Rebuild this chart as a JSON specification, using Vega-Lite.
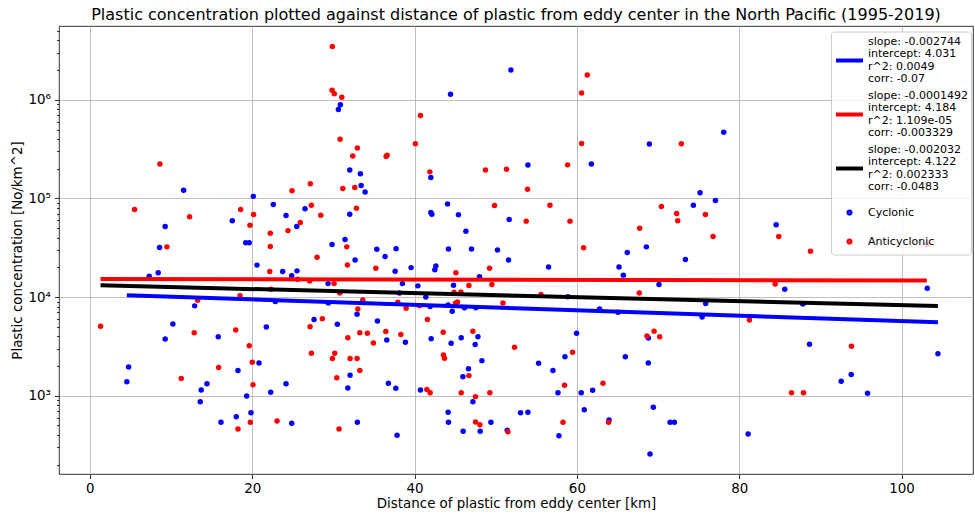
{
  "$schema": "https://vega.github.io/schema/vega-lite/v6.json",
  "width": 914,
  "height": 448,
  "autosize": {"type": "none"},
  "padding": {"left": 59, "top": 26, "right": 2, "bottom": 41},
  "background": "white",
  "title": {"text": "Plastic concentration plotted against distance of plastic from eddy center in the North Pacific (1995-2019)", "font": "DejaVu Sans", "fontSize": 16, "fontWeight": "normal", "color": "black", "anchor": "middle", "offset": 1},
  "config": {
    "view": {"stroke": "black", "strokeWidth": 0.8},
    "font": "DejaVu Sans",
    "axis": {"domain": false, "labelFont": "DejaVu Sans", "labelFontSize": 13.4, "labelColor": "black", "titleFont": "DejaVu Sans", "titleFontSize": 13.4, "titleFontWeight": "normal", "titleColor": "black", "tickColor": "black", "tickSize": 4.5, "tickWidth": 0.8, "gridColor": "#b0b0b0", "gridWidth": 0.8, "gridOpacity": 1, "labelPadding": 3},
    "legend": {"orient": "none", "legendX": 772, "legendY": 5.5, "padding": 3, "strokeColor": "#cccccc", "fillColor": "rgba(255,255,255,0.8)", "cornerRadius": 3, "symbolType": "stroke", "symbolSize": 729, "symbolStrokeWidth": 4, "labelFont": "DejaVu Sans", "labelFontSize": 11, "labelColor": "black", "labelLimit": 0, "labelOffset": 3, "rowPadding": 4}
  },
  "datasets": {
    "points": [
      {"x": 11.55, "y": 121000, "type": "Cyclonic"}, {"x": 9.28, "y": 51900, "type": "Cyclonic"}, {"x": 8.59, "y": 31800, "type": "Cyclonic"}, {"x": 20.14, "y": 105000, "type": "Cyclonic"}, {"x": 22.6, "y": 86700, "type": "Cyclonic"}, {"x": 24.17, "y": 67100, "type": "Cyclonic"}, {"x": 17.55, "y": 59300, "type": "Cyclonic"}, {"x": 25.49, "y": 51900, "type": "Cyclonic"}, {"x": 19.2, "y": 35500, "type": "Cyclonic"}, {"x": 19.64, "y": 35500, "type": "Cyclonic"},
      {"x": 20.59, "y": 21100, "type": "Cyclonic"}, {"x": 23.76, "y": 18150, "type": "Cyclonic"}, {"x": 24.87, "y": 16500, "type": "Cyclonic"}, {"x": 25.52, "y": 18450, "type": "Cyclonic"}, {"x": 7.31, "y": 16300, "type": "Cyclonic"}, {"x": 8.42, "y": 17700, "type": "Cyclonic"}, {"x": 12.91, "y": 8150, "type": "Cyclonic"}, {"x": 22.85, "y": 9000, "type": "Cyclonic"}, {"x": 10.23, "y": 5350, "type": "Cyclonic"}, {"x": 9.28, "y": 3770, "type": "Cyclonic"},
      {"x": 15.82, "y": 3970, "type": "Cyclonic"}, {"x": 21.74, "y": 4990, "type": "Cyclonic"}, {"x": 20.84, "y": 2150, "type": "Cyclonic"}, {"x": 4.77, "y": 1960, "type": "Cyclonic"}, {"x": 18.25, "y": 1800, "type": "Cyclonic"}, {"x": 4.56, "y": 1390, "type": "Cyclonic"}, {"x": 13.72, "y": 1145, "type": "Cyclonic"}, {"x": 14.43, "y": 1320, "type": "Cyclonic"}, {"x": 24.17, "y": 1320, "type": "Cyclonic"}, {"x": 19.32, "y": 995, "type": "Cyclonic"},
      {"x": 22.28, "y": 1085, "type": "Cyclonic"}, {"x": 13.6, "y": 871, "type": "Cyclonic"}, {"x": 18.04, "y": 614, "type": "Cyclonic"}, {"x": 19.85, "y": 674, "type": "Cyclonic"}, {"x": 16.15, "y": 538, "type": "Cyclonic"}, {"x": 24.87, "y": 526, "type": "Cyclonic"}, {"x": 30.86, "y": 890000, "type": "Cyclonic"}, {"x": 30.62, "y": 797000, "type": "Cyclonic"}, {"x": 32.02, "y": 194000, "type": "Cyclonic"}, {"x": 33.33, "y": 177600, "type": "Cyclonic"},
      {"x": 33.42, "y": 135000, "type": "Cyclonic"}, {"x": 33.91, "y": 116000, "type": "Cyclonic"}, {"x": 44.43, "y": 1140000, "type": "Cyclonic"}, {"x": 51.87, "y": 2000000, "type": "Cyclonic"}, {"x": 42.01, "y": 163000, "type": "Cyclonic"}, {"x": 53.97, "y": 218000, "type": "Cyclonic"}, {"x": 26.51, "y": 78500, "type": "Cyclonic"}, {"x": 32.02, "y": 69300, "type": "Cyclonic"}, {"x": 44.06, "y": 88100, "type": "Cyclonic"}, {"x": 42.01, "y": 71900, "type": "Cyclonic"},
      {"x": 42.13, "y": 69300, "type": "Cyclonic"}, {"x": 45.41, "y": 68200, "type": "Cyclonic"}, {"x": 46.33, "y": 46600, "type": "Cyclonic"}, {"x": 51.66, "y": 61100, "type": "Cyclonic"}, {"x": 29.84, "y": 34100, "type": "Cyclonic"}, {"x": 31.44, "y": 38300, "type": "Cyclonic"}, {"x": 35.35, "y": 30600, "type": "Cyclonic"}, {"x": 37.73, "y": 31000, "type": "Cyclonic"}, {"x": 36.37, "y": 25800, "type": "Cyclonic"}, {"x": 32.68, "y": 23800, "type": "Cyclonic"},
      {"x": 44.18, "y": 30800, "type": "Cyclonic"}, {"x": 47.02, "y": 30800, "type": "Cyclonic"}, {"x": 50.22, "y": 30100, "type": "Cyclonic"}, {"x": 51.58, "y": 23800, "type": "Cyclonic"}, {"x": 37.61, "y": 18300, "type": "Cyclonic"}, {"x": 39.58, "y": 19900, "type": "Cyclonic"}, {"x": 42.63, "y": 20700, "type": "Cyclonic"}, {"x": 42.5, "y": 18900, "type": "Cyclonic"}, {"x": 48.0, "y": 16100, "type": "Cyclonic"}, {"x": 29.35, "y": 13700, "type": "Cyclonic"},
      {"x": 38.51, "y": 13700, "type": "Cyclonic"}, {"x": 40.41, "y": 13000, "type": "Cyclonic"}, {"x": 44.8, "y": 13200, "type": "Cyclonic"}, {"x": 38.14, "y": 11000, "type": "Cyclonic"}, {"x": 41.39, "y": 10000, "type": "Cyclonic"}, {"x": 29.38, "y": 8730, "type": "Cyclonic"}, {"x": 41.92, "y": 8010, "type": "Cyclonic"}, {"x": 44.14, "y": 8340, "type": "Cyclonic"}, {"x": 44.64, "y": 7190, "type": "Cyclonic"}, {"x": 46.15, "y": 7820, "type": "Cyclonic"},
      {"x": 47.56, "y": 7820, "type": "Cyclonic"}, {"x": 32.92, "y": 6710, "type": "Cyclonic"}, {"x": 27.62, "y": 5920, "type": "Cyclonic"}, {"x": 30.49, "y": 5310, "type": "Cyclonic"}, {"x": 35.43, "y": 5740, "type": "Cyclonic"}, {"x": 36.58, "y": 3680, "type": "Cyclonic"}, {"x": 38.88, "y": 3490, "type": "Cyclonic"}, {"x": 42.05, "y": 3790, "type": "Cyclonic"}, {"x": 44.51, "y": 3400, "type": "Cyclonic"}, {"x": 45.75, "y": 3880, "type": "Cyclonic"},
      {"x": 47.81, "y": 3970, "type": "Cyclonic"}, {"x": 47.47, "y": 3300, "type": "Cyclonic"}, {"x": 48.3, "y": 2270, "type": "Cyclonic"}, {"x": 55.28, "y": 2140, "type": "Cyclonic"}, {"x": 32.06, "y": 1610, "type": "Cyclonic"}, {"x": 31.78, "y": 1200, "type": "Cyclonic"}, {"x": 36.78, "y": 1340, "type": "Cyclonic"}, {"x": 37.69, "y": 1190, "type": "Cyclonic"}, {"x": 46.65, "y": 1880, "type": "Cyclonic"}, {"x": 45.96, "y": 1560, "type": "Cyclonic"},
      {"x": 40.73, "y": 1145, "type": "Cyclonic"}, {"x": 47.19, "y": 871, "type": "Cyclonic"}, {"x": 32.96, "y": 538, "type": "Cyclonic"}, {"x": 37.85, "y": 397, "type": "Cyclonic"}, {"x": 44.14, "y": 681, "type": "Cyclonic"}, {"x": 44.18, "y": 538, "type": "Cyclonic"}, {"x": 45.99, "y": 436, "type": "Cyclonic"}, {"x": 48.09, "y": 436, "type": "Cyclonic"}, {"x": 49.41, "y": 538, "type": "Cyclonic"}, {"x": 51.42, "y": 447, "type": "Cyclonic"},
      {"x": 53.06, "y": 674, "type": "Cyclonic"}, {"x": 53.97, "y": 681, "type": "Cyclonic"}, {"x": 68.93, "y": 356000, "type": "Cyclonic"}, {"x": 78.09, "y": 470000, "type": "Cyclonic"}, {"x": 61.78, "y": 223000, "type": "Cyclonic"}, {"x": 75.18, "y": 114000, "type": "Cyclonic"}, {"x": 77.07, "y": 95200, "type": "Cyclonic"}, {"x": 74.35, "y": 85500, "type": "Cyclonic"}, {"x": 66.21, "y": 28300, "type": "Cyclonic"}, {"x": 68.56, "y": 32300, "type": "Cyclonic"},
      {"x": 73.37, "y": 24000, "type": "Cyclonic"}, {"x": 84.55, "y": 54000, "type": "Cyclonic"}, {"x": 56.51, "y": 20200, "type": "Cyclonic"}, {"x": 65.19, "y": 20200, "type": "Cyclonic"}, {"x": 65.72, "y": 16700, "type": "Cyclonic"}, {"x": 70.12, "y": 13400, "type": "Cyclonic"}, {"x": 58.9, "y": 10100, "type": "Cyclonic"}, {"x": 62.8, "y": 7590, "type": "Cyclonic"}, {"x": 65.07, "y": 7030, "type": "Cyclonic"}, {"x": 75.87, "y": 8590, "type": "Cyclonic"},
      {"x": 75.43, "y": 6300, "type": "Cyclonic"}, {"x": 85.61, "y": 12000, "type": "Cyclonic"}, {"x": 87.83, "y": 8530, "type": "Cyclonic"}, {"x": 59.96, "y": 4300, "type": "Cyclonic"}, {"x": 68.8, "y": 3860, "type": "Cyclonic"}, {"x": 88.66, "y": 3330, "type": "Cyclonic"}, {"x": 57.05, "y": 1800, "type": "Cyclonic"}, {"x": 58.53, "y": 2490, "type": "Cyclonic"}, {"x": 65.97, "y": 2480, "type": "Cyclonic"}, {"x": 68.8, "y": 2150, "type": "Cyclonic"},
      {"x": 57.67, "y": 1070, "type": "Cyclonic"}, {"x": 60.54, "y": 1070, "type": "Cyclonic"}, {"x": 61.94, "y": 1140, "type": "Cyclonic"}, {"x": 60.91, "y": 723, "type": "Cyclonic"}, {"x": 69.42, "y": 764, "type": "Cyclonic"}, {"x": 63.96, "y": 568, "type": "Cyclonic"}, {"x": 71.48, "y": 538, "type": "Cyclonic"}, {"x": 72.01, "y": 538, "type": "Cyclonic"}, {"x": 57.79, "y": 394, "type": "Cyclonic"}, {"x": 81.1, "y": 410, "type": "Cyclonic"},
      {"x": 69.01, "y": 257, "type": "Cyclonic"}, {"x": 103.17, "y": 12300, "type": "Cyclonic"}, {"x": 104.48, "y": 2670, "type": "Cyclonic"}, {"x": 92.56, "y": 1400, "type": "Cyclonic"}, {"x": 93.8, "y": 1640, "type": "Cyclonic"}, {"x": 95.81, "y": 1060, "type": "Cyclonic"},
      {"x": 8.63, "y": 224000, "type": "Anticyclonic"}, {"x": 5.51, "y": 77200, "type": "Anticyclonic"}, {"x": 12.29, "y": 65100, "type": "Anticyclonic"}, {"x": 9.49, "y": 32300, "type": "Anticyclonic"}, {"x": 18.58, "y": 77200, "type": "Anticyclonic"}, {"x": 20.18, "y": 68700, "type": "Anticyclonic"}, {"x": 19.73, "y": 53600, "type": "Anticyclonic"}, {"x": 22.23, "y": 44500, "type": "Anticyclonic"}, {"x": 24.41, "y": 47200, "type": "Anticyclonic"}, {"x": 25.93, "y": 57000, "type": "Anticyclonic"},
      {"x": 24.91, "y": 120000, "type": "Anticyclonic"}, {"x": 22.23, "y": 32500, "type": "Anticyclonic"}, {"x": 22.16, "y": 18150, "type": "Anticyclonic"}, {"x": 25.61, "y": 15200, "type": "Anticyclonic"}, {"x": 22.32, "y": 12000, "type": "Anticyclonic"}, {"x": 18.5, "y": 10300, "type": "Anticyclonic"}, {"x": 13.28, "y": 9300, "type": "Anticyclonic"}, {"x": 1.32, "y": 5070, "type": "Anticyclonic"}, {"x": 12.86, "y": 4360, "type": "Anticyclonic"}, {"x": 17.97, "y": 4650, "type": "Anticyclonic"},
      {"x": 19.64, "y": 3220, "type": "Anticyclonic"}, {"x": 20.01, "y": 2190, "type": "Anticyclonic"}, {"x": 15.87, "y": 1930, "type": "Anticyclonic"}, {"x": 11.26, "y": 1500, "type": "Anticyclonic"}, {"x": 20.1, "y": 1290, "type": "Anticyclonic"}, {"x": 19.77, "y": 538, "type": "Anticyclonic"}, {"x": 23.06, "y": 555, "type": "Anticyclonic"}, {"x": 18.25, "y": 460, "type": "Anticyclonic"}, {"x": 29.88, "y": 3470000, "type": "Anticyclonic"}, {"x": 29.84, "y": 1250000, "type": "Anticyclonic"},
      {"x": 30.12, "y": 1150000, "type": "Anticyclonic"}, {"x": 31.04, "y": 1060000, "type": "Anticyclonic"}, {"x": 30.83, "y": 399000, "type": "Anticyclonic"}, {"x": 32.96, "y": 324000, "type": "Anticyclonic"}, {"x": 32.39, "y": 269000, "type": "Anticyclonic"}, {"x": 36.62, "y": 275000, "type": "Anticyclonic"}, {"x": 36.5, "y": 266000, "type": "Anticyclonic"}, {"x": 31.16, "y": 126000, "type": "Anticyclonic"}, {"x": 32.64, "y": 129000, "type": "Anticyclonic"}, {"x": 27.16, "y": 141000, "type": "Anticyclonic"},
      {"x": 40.73, "y": 693000, "type": "Anticyclonic"}, {"x": 40.11, "y": 358000, "type": "Anticyclonic"}, {"x": 41.89, "y": 186000, "type": "Anticyclonic"}, {"x": 48.74, "y": 194000, "type": "Anticyclonic"}, {"x": 51.33, "y": 198000, "type": "Anticyclonic"}, {"x": 53.92, "y": 124000, "type": "Anticyclonic"}, {"x": 27.29, "y": 85500, "type": "Anticyclonic"}, {"x": 28.45, "y": 67700, "type": "Anticyclonic"}, {"x": 32.84, "y": 79700, "type": "Anticyclonic"}, {"x": 49.85, "y": 84700, "type": "Anticyclonic"},
      {"x": 53.76, "y": 58900, "type": "Anticyclonic"}, {"x": 31.65, "y": 32300, "type": "Anticyclonic"}, {"x": 27.99, "y": 25400, "type": "Anticyclonic"}, {"x": 31.73, "y": 21200, "type": "Anticyclonic"}, {"x": 35.23, "y": 19600, "type": "Anticyclonic"}, {"x": 45.09, "y": 17700, "type": "Anticyclonic"}, {"x": 49.24, "y": 19600, "type": "Anticyclonic"}, {"x": 27.09, "y": 14600, "type": "Anticyclonic"}, {"x": 30.09, "y": 13700, "type": "Anticyclonic"}, {"x": 46.7, "y": 13100, "type": "Anticyclonic"},
      {"x": 49.53, "y": 13400, "type": "Anticyclonic"}, {"x": 30.79, "y": 11000, "type": "Anticyclonic"}, {"x": 44.88, "y": 11200, "type": "Anticyclonic"}, {"x": 45.71, "y": 11300, "type": "Anticyclonic"}, {"x": 33.63, "y": 9370, "type": "Anticyclonic"}, {"x": 37.94, "y": 8870, "type": "Anticyclonic"}, {"x": 45.04, "y": 8670, "type": "Anticyclonic"}, {"x": 45.29, "y": 8900, "type": "Anticyclonic"}, {"x": 50.89, "y": 8730, "type": "Anticyclonic"}, {"x": 40.6, "y": 8150, "type": "Anticyclonic"},
      {"x": 33.01, "y": 7590, "type": "Anticyclonic"}, {"x": 38.96, "y": 7710, "type": "Anticyclonic"}, {"x": 28.64, "y": 6050, "type": "Anticyclonic"}, {"x": 27.13, "y": 5020, "type": "Anticyclonic"}, {"x": 41.59, "y": 5920, "type": "Anticyclonic"}, {"x": 31.78, "y": 3880, "type": "Anticyclonic"}, {"x": 33.26, "y": 4360, "type": "Anticyclonic"}, {"x": 34.19, "y": 4300, "type": "Anticyclonic"}, {"x": 34.93, "y": 3430, "type": "Anticyclonic"}, {"x": 36.46, "y": 4470, "type": "Anticyclonic"},
      {"x": 38.31, "y": 4170, "type": "Anticyclonic"}, {"x": 43.53, "y": 4410, "type": "Anticyclonic"}, {"x": 47.19, "y": 4510, "type": "Anticyclonic"}, {"x": 52.32, "y": 3100, "type": "Anticyclonic"}, {"x": 27.29, "y": 2700, "type": "Anticyclonic"}, {"x": 30.17, "y": 2700, "type": "Anticyclonic"}, {"x": 29.88, "y": 2380, "type": "Anticyclonic"}, {"x": 32.06, "y": 2380, "type": "Anticyclonic"}, {"x": 32.92, "y": 2380, "type": "Anticyclonic"}, {"x": 43.56, "y": 2590, "type": "Anticyclonic"},
      {"x": 43.69, "y": 2400, "type": "Anticyclonic"}, {"x": 33.26, "y": 1800, "type": "Anticyclonic"}, {"x": 30.42, "y": 1520, "type": "Anticyclonic"}, {"x": 46.7, "y": 1600, "type": "Anticyclonic"}, {"x": 41.52, "y": 1160, "type": "Anticyclonic"}, {"x": 41.92, "y": 1070, "type": "Anticyclonic"}, {"x": 45.75, "y": 1070, "type": "Anticyclonic"}, {"x": 47.51, "y": 980, "type": "Anticyclonic"}, {"x": 49.28, "y": 1070, "type": "Anticyclonic"}, {"x": 30.7, "y": 460, "type": "Anticyclonic"},
      {"x": 47.51, "y": 542, "type": "Anticyclonic"}, {"x": 48.05, "y": 509, "type": "Anticyclonic"}, {"x": 51.5, "y": 432, "type": "Anticyclonic"}, {"x": 61.28, "y": 1780000, "type": "Anticyclonic"}, {"x": 60.58, "y": 1170000, "type": "Anticyclonic"}, {"x": 60.58, "y": 361000, "type": "Anticyclonic"}, {"x": 72.87, "y": 358000, "type": "Anticyclonic"}, {"x": 58.85, "y": 219000, "type": "Anticyclonic"}, {"x": 56.68, "y": 85500, "type": "Anticyclonic"}, {"x": 59.15, "y": 58900, "type": "Anticyclonic"},
      {"x": 60.83, "y": 31600, "type": "Anticyclonic"}, {"x": 70.41, "y": 82800, "type": "Anticyclonic"}, {"x": 72.29, "y": 70300, "type": "Anticyclonic"}, {"x": 72.42, "y": 59300, "type": "Anticyclonic"}, {"x": 75.83, "y": 68700, "type": "Anticyclonic"}, {"x": 67.73, "y": 50000, "type": "Anticyclonic"}, {"x": 76.78, "y": 41100, "type": "Anticyclonic"}, {"x": 84.87, "y": 41100, "type": "Anticyclonic"}, {"x": 88.78, "y": 29200, "type": "Anticyclonic"}, {"x": 67.69, "y": 11000, "type": "Anticyclonic"},
      {"x": 55.57, "y": 10600, "type": "Anticyclonic"}, {"x": 84.43, "y": 13600, "type": "Anticyclonic"}, {"x": 81.26, "y": 5870, "type": "Anticyclonic"}, {"x": 69.51, "y": 4510, "type": "Anticyclonic"}, {"x": 68.64, "y": 4040, "type": "Anticyclonic"}, {"x": 70.2, "y": 3970, "type": "Anticyclonic"}, {"x": 59.47, "y": 2760, "type": "Anticyclonic"}, {"x": 58.48, "y": 1280, "type": "Anticyclonic"}, {"x": 63.22, "y": 1340, "type": "Anticyclonic"}, {"x": 58.29, "y": 538, "type": "Anticyclonic"},
      {"x": 63.91, "y": 538, "type": "Anticyclonic"}, {"x": 86.44, "y": 1070, "type": "Anticyclonic"}, {"x": 87.92, "y": 1070, "type": "Anticyclonic"}, {"x": 103.12, "y": 34000, "type": "Anticyclonic"}, {"x": 93.83, "y": 3180, "type": "Anticyclonic"}
    ],
    "fits": [
      {"x": 4.56, "y": 10435, "type": "slope: -0.002744|intercept: 4.031|r^2: 0.0049|corr: -0.07"},
      {"x": 104.48, "y": 5551, "type": "slope: -0.002744|intercept: 4.031|r^2: 0.0049|corr: -0.07"},
      {"x": 1.32, "y": 15269, "type": "slope: -0.0001492|intercept: 4.184|r^2: 1.109e-05|corr: -0.003329"},
      {"x": 103.12, "y": 14740, "type": "slope: -0.0001492|intercept: 4.184|r^2: 1.109e-05|corr: -0.003329"},
      {"x": 1.32, "y": 13164, "type": "slope: -0.002032|intercept: 4.122|r^2: 0.002333|corr: -0.0483"},
      {"x": 104.48, "y": 8122, "type": "slope: -0.002032|intercept: 4.122|r^2: 0.002333|corr: -0.0483"}
    ]
  },
  "layer": [
    {
      "data": {"name": "points"},
      "mark": {"type": "circle", "size": 30, "opacity": 1},
      "encoding": {
        "x": {"field": "x", "type": "quantitative", "scale": {"domain": [-3.8, 108.8], "nice": false, "zero": false},
          "axis": {"values": [0, 20, 40, 60, 80, 100], "format": "d", "grid": true, "title": "Distance of plastic from eddy center [km]", "titlePadding": 2, "labelFlush": false}},
        "y": {"field": "y", "type": "quantitative", "scale": {"type": "log", "domain": [161, 5600000], "nice": false},
          "axis": {"values": [200, 300, 400, 500, 600, 700, 800, 900, 1000, 2000, 3000, 4000, 5000, 6000, 7000, 8000, 9000, 10000, 20000, 30000, 40000, 50000, 60000, 70000, 80000, 90000, 100000, 200000, 300000, 400000, 500000, 600000, 700000, 800000, 900000, 1000000, 2000000, 3000000, 4000000, 5000000],
            "labelExpr": "datum.value == 1000 ? '10³' : datum.value == 10000 ? '10⁴' : datum.value == 100000 ? '10⁵' : datum.value == 1000000 ? '10⁶' : ''",
            "labelOverlap": false, "labelFlush": false, "grid": true, "labelPadding": 4,
            "tickSize": {"condition": {"test": "indexof([1000, 10000, 100000, 1000000], datum.value) >= 0", "value": 4.5}, "value": 2.5},
            "gridOpacity": {"condition": {"test": "indexof([1000, 10000, 100000, 1000000], datum.value) >= 0", "value": 1}, "value": 0},
            "title": "Plastic concentration [No/km^2]", "titlePadding": 4}},
        "color": {"field": "type", "type": "nominal",
          "scale": {"domain": ["slope: -0.002744|intercept: 4.031|r^2: 0.0049|corr: -0.07", "slope: -0.0001492|intercept: 4.184|r^2: 1.109e-05|corr: -0.003329", "slope: -0.002032|intercept: 4.122|r^2: 0.002333|corr: -0.0483", "Cyclonic", "Anticyclonic"], "range": ["#0000ff", "#ff0000", "#000000", "#0000ff", "#ff0000"]},
          "legend": {
            "title": " ", "titleFontSize": 1, "titlePadding": 9.5,
            "labelExpr": "split(datum.label, '|')",
            "encoding": {
              "symbols": {
                "shape": {"value": {"expr": "indexof('' + datum.value, '|') >= 0 ? 'stroke' : 'M -0.08,0 A 0.08,0.08 0 1,1 0.08,0 A 0.08,0.08 0 1,1 -0.08,0 Z'"}},
                "opacity": {"value": 1}
              },
              "labels": {
                "lineHeight": {"value": 12.6},
                "dy": {"value": {"expr": "indexof('' + datum.value, '|') >= 0 ? -18.9 : 0"}}
              }
            }
          }}
      }
    },
    {
      "data": {"name": "fits"},
      "mark": {"type": "line", "strokeWidth": 4},
      "encoding": {
        "x": {"field": "x", "type": "quantitative"},
        "y": {"field": "y", "type": "quantitative"},
        "color": {"field": "type", "type": "nominal", "legend": null}
      }
    }
  ]
}
